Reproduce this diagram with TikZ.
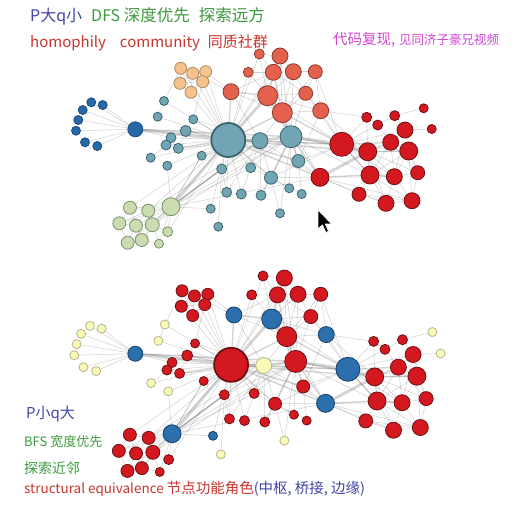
\documentclass[tikz,border=0pt]{standalone}
\usepackage{fontspec}
\setmainfont{Noto Sans CJK SC}
\pgfdeclarelayer{bgfill}
\pgfdeclarelayer{edges}
\pgfsetlayers{bgfill,edges,main}
\definecolor{cT}{HTML}{72A5B3}\definecolor{cTb}{HTML}{3A6470}
\definecolor{cD}{HTML}{2768A8}\definecolor{cDb}{HTML}{1A4A7A}
\definecolor{cP}{HTML}{F6C38E}\definecolor{cPb}{HTML}{B08A60}
\definecolor{cO}{HTML}{E4624D}\definecolor{cOb}{HTML}{8A3A2E}
\definecolor{cR}{HTML}{D3191F}\definecolor{cRb}{HTML}{6E1014}
\definecolor{cG}{HTML}{CADCB0}\definecolor{cGb}{HTML}{7B8F6A}
\definecolor{cB}{HTML}{2B70AD}\definecolor{cBb}{HTML}{16406A}
\definecolor{cY}{HTML}{FAFAB8}\definecolor{cYb}{HTML}{B5B58A}
\definecolor{txred}{HTML}{C8362E}
\definecolor{txgreen}{HTML}{3D9A3D}
\definecolor{txblue}{HTML}{4545A5}
\definecolor{txmag}{HTML}{D245D2}
\newif\ifbot
\newcommand\pfx{A}
\newcommand\nd[6]{\ifbot\def\cc{#6}\else\def\cc{#5}\fi
  \node[gn=\cc, minimum size=#4*2pt] (\pfx#1) at (#2,-#3) {};}
\newcommand\drawgraph{%
  \nd{db0}{135.3}{129.3}{7.5}{D}{B}
  \nd{db1}{91.3}{102.3}{4.5}{D}{Y}
  \nd{db2}{102.7}{105}{4.5}{D}{Y}
  \nd{db3}{82.7}{110}{4.5}{D}{Y}
  \nd{db4}{78.3}{120}{4.5}{D}{Y}
  \nd{db5}{76}{130.7}{4.5}{D}{Y}
  \nd{db6}{85}{142.3}{4.5}{D}{Y}
  \nd{db7}{97.3}{146}{4.5}{D}{Y}
  \nd{p1}{180.7}{68.3}{6}{P}{R}
  \nd{p2}{192.7}{73.3}{6}{P}{R}
  \nd{p3}{205.7}{71.7}{6}{P}{R}
  \nd{p4}{180}{83.3}{6}{P}{R}
  \nd{p5}{202.7}{81.7}{6}{P}{R}
  \nd{p6}{191}{92.3}{6}{P}{R}
  \nd{t1}{260}{140.7}{8}{T}{Y}
  \nd{t2}{291}{136.7}{11}{T}{R}
  \nd{t3}{164}{101}{4.5}{T}{Y}
  \nd{t4}{157.7}{116.7}{4.5}{T}{Y}
  \nd{t5}{193.3}{119.3}{4.5}{T}{R}
  \nd{t6}{185.7}{131}{5.5}{T}{R}
  \nd{t7}{171}{137.7}{5}{T}{R}
  \nd{t8}{166}{145}{5}{T}{R}
  \nd{t9}{178.3}{148.3}{5}{T}{R}
  \nd{t10}{150.7}{157.7}{4.5}{T}{Y}
  \nd{t11}{167.3}{165.7}{4.5}{T}{Y}
  \nd{t12}{201.7}{155.7}{4.5}{T}{R}
  \nd{t13}{221.7}{169}{5}{T}{R}
  \nd{t14}{250.7}{167.7}{5}{T}{R}
  \nd{t15}{298.3}{161}{6.5}{T}{R}
  \nd{t16}{271}{177.7}{6.5}{T}{R}
  \nd{t17}{226.7}{192.3}{5}{T}{R}
  \nd{t18}{241.3}{194}{5}{T}{R}
  \nd{t19}{261}{195.3}{5}{T}{R}
  \nd{t20}{289.3}{188.3}{4.5}{T}{R}
  \nd{t21}{301.7}{194}{4.5}{T}{R}
  \nd{t22}{210.7}{208.7}{4.5}{T}{B}
  \nd{t23}{218.3}{226.7}{4.5}{T}{Y}
  \nd{t24}{280}{213.3}{4.5}{T}{Y}
  \nd{g0}{171}{206.7}{9}{G}{B}
  \nd{g1}{130}{207.7}{6.5}{G}{R}
  \nd{g2}{148.3}{210.7}{6.5}{G}{R}
  \nd{g3}{119.3}{223.3}{6.5}{G}{R}
  \nd{g4}{136}{225.7}{6.5}{G}{R}
  \nd{g5}{152.3}{224.7}{7}{G}{R}
  \nd{g6}{167.7}{231.7}{5}{G}{R}
  \nd{g7}{127.7}{242.7}{6.5}{G}{R}
  \nd{g8}{141.7}{240}{6.5}{G}{R}
  \nd{g9}{159}{243.7}{4.5}{G}{R}
  \nd{o0}{259.3}{54}{5}{O}{R}
  \nd{o1}{280}{56}{8}{O}{R}
  \nd{o2}{248.3}{72.3}{5}{O}{R}
  \nd{o3}{273.3}{72.3}{8}{O}{R}
  \nd{o4}{293.3}{71.7}{8}{O}{R}
  \nd{o5}{315.3}{71.7}{7}{O}{R}
  \nd{o6}{231}{91.7}{8}{O}{B}
  \nd{o7}{267.7}{95.7}{10}{O}{B}
  \nd{o8}{305.7}{93.3}{7}{O}{R}
  \nd{o9}{282.3}{112.7}{10}{O}{R}
  \nd{o10}{320.7}{110.7}{8}{O}{B}
  \nd{r0}{341.7}{144.3}{12}{R}{B}
  \nd{r1}{366.7}{117.3}{5}{R}{R}
  \nd{r2}{377.7}{125}{5}{R}{R}
  \nd{r3}{394.7}{115.7}{5}{R}{R}
  \nd{r4}{423.7}{108.3}{4.5}{R}{Y}
  \nd{r5}{431.7}{129}{4.5}{R}{Y}
  \nd{r6}{405}{130}{8}{R}{R}
  \nd{r7}{390.7}{142.3}{8}{R}{R}
  \nd{r8}{367.7}{151.7}{9}{R}{R}
  \nd{r9}{408.7}{151}{9}{R}{R}
  \nd{r10}{320}{177.3}{9}{R}{B}
  \nd{r11}{370}{175}{9}{R}{R}
  \nd{r12}{394.3}{176.7}{8}{R}{R}
  \nd{r13}{417.7}{172.7}{7}{R}{R}
  \nd{r14}{359}{194.3}{7}{R}{R}
  \nd{r15}{386}{203.3}{8}{R}{R}
  \nd{r16}{412}{200.7}{8}{R}{R}
  \ifbot\def\cc{R}\else\def\cc{T}\fi
  \node[gn=\cc, minimum size=34pt, line width=1.8pt] (\pfx t0) at (228.3,-140) {};
  \begin{pgfonlayer}{edges}
  \foreach \a/\b in {db0/db1,db0/db2,db0/db3,db0/db4,db0/db5,db0/db6,db0/db7,db0/t6,db0/t7,db0/t1,
    p1/p2,p1/p3,p1/p4,p1/p5,p1/p6,p2/p3,p2/p4,p2/p5,p2/p6,p3/p5,p3/p6,p4/p5,p4/p6,p5/p6,
    p1/t0,p2/t0,p3/t0,p4/t0,p5/t0,p1/t3,p2/o6,p5/t5,p3/o6,
    t3/t0,t4/t0,t5/t0,t7/t0,t8/t0,t10/t0,t11/t0,t12/t0,t13/t0,t14/t0,t17/t0,t18/t0,
    t19/t1,t20/t16,t21/t16,t22/g0,t23/t13,t24/t16,t14/t2,t16/r10,t17/t13,t13/g0,t12/g0,
    t6/t7,t7/t8,t8/t9,t6/t9,t19/t16,t20/t2,t21/t15,t14/t16,t10/t8,t11/g0,t1/r0,t1/o9,
    t0/o1,t0/o0,t0/o3,t3/t4,t18/t14,t22/t0,t24/t2,t5/t6,t1/t14,t1/t16,t1/o6,
    g0/g1,g0/g2,g0/g3,g0/g4,g0/g5,g0/g6,g0/g7,g0/g8,g0/g9,
    g1/g2,g1/g3,g1/g4,g2/g4,g2/g5,g3/g4,g3/g7,g4/g5,g4/g7,g4/g8,g5/g8,g5/g6,g7/g8,g8/g9,g5/g9,g2/g3,
    g0/t2,g0/t14,g1/t0,g5/t0,g2/t0,g0/t12,g0/r10,g2/t1,g5/t2,g6/t0,
    t13/t2,t12/t1,t9/t1,r10/o9,r10/t1,r11/t2,t16/r0,t19/t2,t17/t1,t6/t1,t5/t1,
    o0/o3,o0/o1,o1/o3,o1/o4,o1/o7,o2/o7,o2/o3,o3/o4,o4/o5,o4/o7,o4/o8,o4/o9,
    o5/o8,o5/o10,o7/o8,o8/o9,o8/o10,o9/o10,o6/o3,o10/r0,o8/r0,o7/r0,o10/r1,
    o10/t15,o9/t15,o5/o9,o1/o9,o7/o10,o3/o8,o0/o7,o6/o9,o2/t0,o5/r0,o10/r8,o8/t2,o4/t2,o1/t2,
    r0/r1,r0/r2,r0/r9,r0/r11,r0/r12,r0/r6,r1/r2,r2/r3,r3/r4,r3/r6,r6/r5,r6/r7,
    r6/r9,r7/r9,r7/r12,r8/r9,r8/r12,r9/r12,r9/r13,r10/r12,r10/r14,r11/r12,r11/r14,
    r11/r15,r12/r13,r12/r15,r12/r16,r13/r16,r14/r15,r15/r16,r11/r16,r9/r16,r6/r13,
    r11/r9,r10/r15,r8/r13,r10/r16,r10/t15,r0/t15,r7/r11,r2/r7,r1/r8,r14/r16,r8/r15,r7/r13,r6/r12}
    \draw[ea] (\pfx\a) -- (\pfx\b);
  \foreach \a/\b in {t6/t0,t9/t0,t15/t0,t16/t0,t15/t2,t16/t2,t2/o9,t2/r10,t0/r0,t0/o9,t0/o6,
    g0/t1,g0/t13,o3/o7,o3/o9,o6/o7,o9/r0,r0/r7,r10/t0,r8/t2,r10/r11,r8/r11,r7/r8,db0/t2,
    r0/r11,r11/r12,r8/r9,t0/r8}
    \draw[eb] (\pfx\a) -- (\pfx\b);
  \foreach \a/\b in {db0/t0,t0/t1,t1/t2,t2/r0,t0/o7,t2/o7,o7/o9,r0/r8,r10/r8,g0/t0}
    \draw[ec] (\pfx\a) -- (\pfx\b);
  \end{pgfonlayer}
}
\begin{document}
\begin{tikzpicture}[x=1pt,y=1pt,
  gn/.style={circle, inner sep=0pt, fill=c#1, draw=c#1b, line width=0.8pt},
  ea/.style={draw=black!55, opacity=0.32, line width=0.5pt},
  eb/.style={draw=black!55, opacity=0.3, line width=1.4pt},
  ec/.style={draw=black!55, opacity=0.3, line width=2.8pt},
  tx/.style={anchor=base west, inner sep=0pt}]
\begin{pgfonlayer}{bgfill}
\fill[white] (0,0) rectangle (514,-504);
\end{pgfonlayer}
\useasboundingbox (0,0) rectangle (514,-504);
% top graph
\botfalse\renewcommand\pfx{A}
\drawgraph
% bottom graph
\begin{scope}[shift={(-4.05,-220.2)}, xscale=1.03, yscale=1.033]
\bottrue\renewcommand\pfx{B}
\drawgraph
\end{scope}
% cursor
\coordinate (cur) at (318,-210);
\fill[black, draw=white, line width=0.6pt, line join=round]
  (cur) -- ++(0,-19) -- ++(4.5,4.2) -- ++(3.4,-7.6) -- ++(2.6,1.1) -- ++(-3.3,7.4) -- ++(6.2,0) -- cycle;
% texts
\node[tx, font=\fontsize{16}{16}\selectfont] (l1) at (30,-21)
  {\textcolor{txblue}{P大q小}\hspace{9pt}\textcolor{txgreen}{DFS {\fontsize{16.5}{17}\selectfont 深度优先\hspace{9pt}探索远方}}};
\node[tx, font=\fontsize{15}{15}\selectfont, text=txred] (l2) at (30,-47)
  {homophily\hspace{14pt}community\hspace{8pt}同质社群};
\node[tx, text=txmag] (l3) at (333,-44)
  {\fontsize{14.5}{14}\selectfont 代码复现,\hspace{4pt}\fontsize{12.5}{12}\selectfont 见同济子豪兄视频};
\node[tx, font=\fontsize{15}{15}\selectfont, text=txblue] (l4) at (26,-418) {P小q大};
\node[tx, font=\fontsize{13}{13}\selectfont, text=txgreen] (l5) at (24,-446) {BFS 宽度优先};
\node[tx, font=\fontsize{14}{14}\selectfont, text=txgreen] (l6) at (24,-473) {探索近邻};
\node[tx, font=\fontsize{13.5}{13}\selectfont] (l7) at (24,-493)
  {\textcolor{txred}{structural equivalence {\fontsize{14.5}{14}\selectfont 节点功能角色}}\textcolor{txblue}{\fontsize{14.5}{14}\selectfont (中枢, 桥接, 边缘)}};
\end{tikzpicture}
\end{document}
